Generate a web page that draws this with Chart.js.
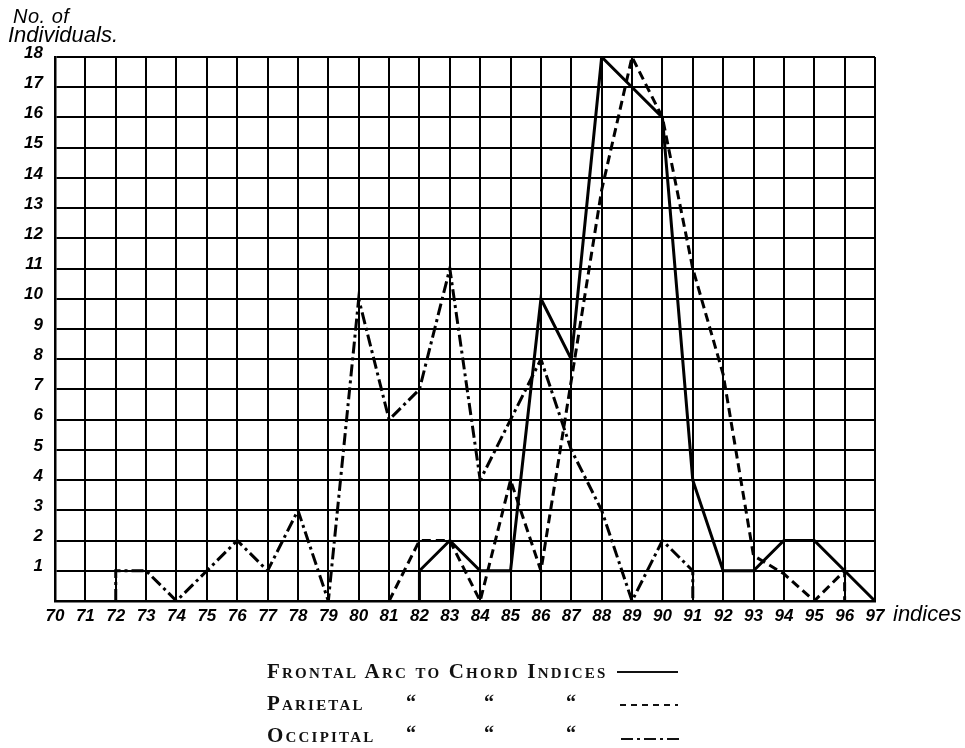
<!DOCTYPE html>
<html>
<head>
<meta charset="utf-8">
<script src="https://cdn.jsdelivr.net/npm/chart.js@4"></script>
<style>
  body { margin: 0; background: #fff; }
  #wrap { position: relative; width: 965px; height: 748px; }
  #wrap canvas { position: absolute; left: 0; top: 0; }
  .hand { position: absolute; font-family: "Liberation Sans", sans-serif; font-style: italic; color: #000; white-space: nowrap; }
  .leg { position: absolute; font-family: "Liberation Serif", serif; font-weight: bold; font-variant: small-caps;
         font-size: 21px; letter-spacing: 2.2px; color: #111; white-space: nowrap; line-height: 24px; }
  .ditto { position: absolute; font-family: "Liberation Serif", serif; font-weight: bold; font-size: 20px; color: #111; line-height: 24px; }
  svg.mark { position: absolute; }
</style>
</head>
<body>
<div id="wrap">
  <canvas id="grafico"></canvas>
  <div class="hand" style="left:13px; top:5px; font-size:20px; letter-spacing:0.5px;">No. of</div>
  <div class="hand" style="left:8px; top:22px; font-size:22px;">Individuals.</div>
  <div class="hand" style="left:893px; top:601px; font-size:22px;">indices</div>

  <div class="leg" style="left:267px; top:659px;">Frontal Arc to Chord Indices</div>
  <svg class="mark" style="left:617px; top:669px;" width="64" height="6"><line x1="0" y1="3" x2="61" y2="3" stroke="#111" stroke-width="2"/></svg>

  <div class="leg" style="left:267px; top:691px;">Parietal</div>
  <div class="ditto" style="left:406px; top:690px;">&ldquo;</div>
  <div class="ditto" style="left:484px; top:690px;">&ldquo;</div>
  <div class="ditto" style="left:566px; top:690px;">&ldquo;</div>
  <svg class="mark" style="left:620px; top:702px;" width="60" height="6"><line x1="0" y1="3" x2="58" y2="3" stroke="#111" stroke-width="2" stroke-dasharray="6,5"/></svg>

  <div class="leg" style="left:267px; top:723px;">Occipital</div>
  <div class="ditto" style="left:406px; top:721px;">&ldquo;</div>
  <div class="ditto" style="left:484px; top:721px;">&ldquo;</div>
  <div class="ditto" style="left:566px; top:721px;">&ldquo;</div>
  <svg class="mark" style="left:621px; top:736px;" width="60" height="6"><line x1="0" y1="3" x2="58" y2="3" stroke="#111" stroke-width="2" stroke-dasharray="12,4,3,4"/></svg>
</div>

<script>
// Índices (eixo x)
const indices = [70, 71, 72, 73, 74, 75, 76, 77, 78, 79, 80, 81, 82, 83, 84, 85, 86, 87, 88, 89, 90, 91, 92, 93, 94, 95, 96, 97];

// Número de indivíduos por índice (null = sem dado)
const frontal = [null, null, null, null, null, null, null, null, null, null, null, null,
    1, 2, 1, 1, 10, 8, 18, 17, 16, 4, 1, 1, 2, 2, 1, 0];
const parietal = [null, null, null, null, null, null, null, null, null, null, null,
    0, 2, 2, 0, 4, 1, 7.3, 13.6, 18, 16, 11, 7.5, 1.5, 0.9, 0, 1, null];
const occipital = [null, null,
    1, 1, 0, 1, 2, 1, 3, 0, 10, 6, 7, 11, 4, 6, 8, 5, 3, 0, 2, 1,
    null, null, null, null, null, null];

const yTicks = [1, 2, 3, 4, 5, 6, 7, 8, 9, 10, 11, 12, 13, 14, 15, 16, 17, 18];

// monta os pontos; a curva desce até zero no começo/fim (como no desenho)
function pontos(valores) {
    const pts = [];
    valores.forEach((v, i) => {
        if (v !== null) pts.push({ x: indices[i], y: v });
    });
    if (pts[0].y !== 0) pts.unshift({ x: pts[0].x, y: 0 });
    const ultimo = pts[pts.length - 1];
    if (ultimo.y !== 0) pts.push({ x: ultimo.x, y: 0 });
    return pts;
}

const fonteNum = { family: "'Liberation Sans', sans-serif", size: 17, style: 'italic', weight: 'bold' };

const ctx = document.getElementById('grafico').getContext('2d');

new Chart(ctx, {
    type: 'line',
    data: {
        datasets: [
            {
                label: 'Frontal',
                data: pontos(frontal),
                borderColor: '#000',
                borderWidth: 3,
                pointRadius: 0,
                tension: 0
            },
            {
                label: 'Parietal',
                data: pontos(parietal),
                borderColor: '#000',
                borderWidth: 3,
                borderDash: [9, 5],
                pointRadius: 0,
                tension: 0
            },
            {
                label: 'Occipital',
                data: pontos(occipital),
                borderColor: '#000',
                borderWidth: 3,
                borderDash: [12, 4, 3, 4],
                pointRadius: 0,
                tension: 0
            }
        ]
    },
    options: {
        responsive: true,
        maintainAspectRatio: false,
        animation: false,
        layout: {
            padding: { top: 57, right: 90, left: 0, bottom: 0 }
        },
        plugins: {
            legend: { display: false },
            tooltip: { enabled: false }
        },
        scales: {
            x: {
                type: 'linear',
                min: 70,
                max: 97,
                afterFit: (scale) => { scale.height = 147; },
                afterBuildTicks: (scale) => { scale.ticks = indices.map(v => ({ value: v })); },
                ticks: {
                    autoSkip: false,
                    maxRotation: 0,
                    padding: 5,
                    color: '#000',
                    font: fonteNum
                },
                grid: {
                    color: '#000',
                    lineWidth: 2,
                    drawTicks: false
                },
                border: { color: '#000', width: 2.5 }
            },
            y: {
                min: 0,
                max: 18,
                afterFit: (scale) => { scale.width = 55; },
                afterBuildTicks: (scale) => { scale.ticks = [0].concat(yTicks).map(v => ({ value: v })); },
                ticks: {
                    autoSkip: false,
                    padding: 12,
                    labelOffset: -4,
                    color: '#000',
                    font: fonteNum,
                    callback: (v) => (v === 0 ? '' : v)
                },
                grid: {
                    color: '#000',
                    lineWidth: 2,
                    drawTicks: false
                },
                border: { color: '#000', width: 2.5 }
            }
        }
    }
});
</script>
</body>
</html>
